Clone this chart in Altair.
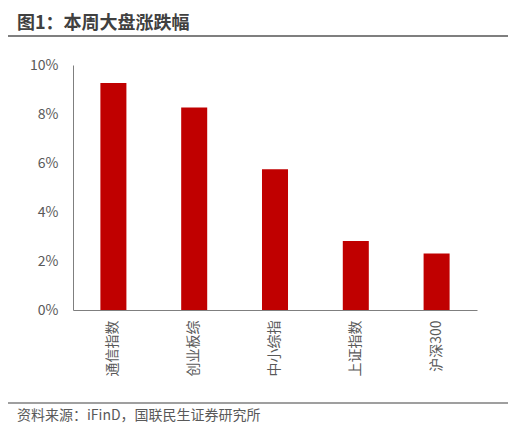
import altair as alt
import pandas as pd

categories = ["通信指数", "创业板综", "中小综指", "上证指数", "沪深300"]
values_pct = [9.27, 8.27, 5.74, 2.82, 2.31]
y_ticks = [0, 0.02, 0.04, 0.06, 0.08, 0.10]
title_text = "图1：本周大盘涨跌幅"
source_text = "资料来源：iFinD，国联民生证券研究所"

df = pd.DataFrame({"cat": categories, "val": [v / 100 for v in values_pct]})
one = pd.DataFrame({"t": [title_text], "s": [source_text]})

FONT = "Noto Sans CJK SC"
W, H = 404, 245

bars = alt.Chart(df).mark_bar(color="#C00000").encode(
    x=alt.X("cat:N", sort=categories, title=None,
            scale=alt.Scale(paddingInner=0.678, paddingOuter=0.339),
            axis=alt.Axis(labelAngle=-90, labelAlign="right", labelBaseline="middle",
                          labelPadding=10, ticks=False, tickSize=0,
                          labelFont=FONT, labelFontSize=14, labelColor="#595959",
                          domainColor="#7F7F7F", domainWidth=1)),
    y=alt.Y("val:Q", title=None,
            scale=alt.Scale(domain=[0, 0.1]),
            axis=alt.Axis(format=".0%", values=y_ticks, grid=False, ticks=False, tickSize=0,
                          labelPadding=15, labelFont=FONT, labelFontSize=14,
                          labelColor="#595959", domainColor="#7F7F7F", domainWidth=1)),
)

title = alt.Chart(one).mark_text(
    font=FONT, fontSize=18, fontWeight="bold", color="#404040",
    align="left", baseline="alphabetic"
).encode(text="t:N", x=alt.value(-56), y=alt.value(-35.8))

top_rule = alt.Chart(one).mark_rule(color="#7F7F7F", strokeWidth=2).encode(
    x=alt.value(-67), x2=alt.value(438), y=alt.value(-29))

bottom_rule = alt.Chart(one).mark_rule(color="#7F7F7F", strokeWidth=1.5).encode(
    x=alt.value(-67), x2=alt.value(438), y=alt.value(338))

source = alt.Chart(one).mark_text(
    font=FONT, fontSize=14, color="#595959", align="left", baseline="alphabetic"
).encode(text="s:N", x=alt.value(-56), y=alt.value(354.5))

chart = alt.layer(bars, title, top_rule, bottom_rule, source).properties(
    width=W, height=H,
    padding={"left": 65, "top": 57, "right": 31, "bottom": 114},
    autosize=alt.AutoSizeParams(type="none"),
).configure_view(strokeWidth=0)

chart.save("out.html", embed_options={"renderer": "svg", "actions": False})
